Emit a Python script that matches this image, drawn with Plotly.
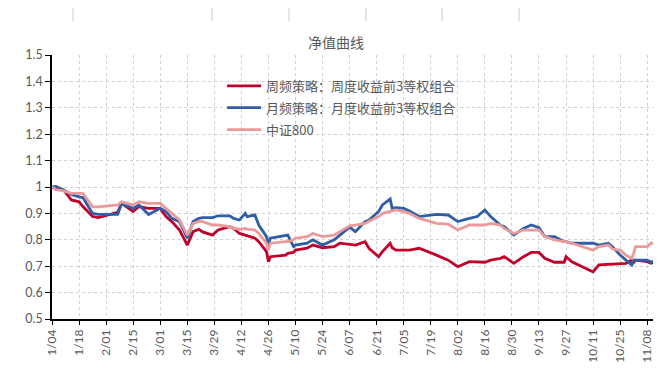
import plotly.graph_objects as go

dates = ["2022-01-04","2022-01-06","2022-01-10","2022-01-14","2022-01-18","2022-01-20","2022-01-25","2022-01-28",
         "2022-02-07","2022-02-09","2022-02-15","2022-02-18","2022-02-23","2022-03-01","2022-03-04","2022-03-07",
         "2022-03-11","2022-03-15","2022-03-18","2022-03-21","2022-03-23","2022-03-28","2022-03-31","2022-04-06",
         "2022-04-08","2022-04-11","2022-04-14","2022-04-15","2022-04-19","2022-04-21","2022-04-25","2022-04-26",
         "2022-04-27","2022-05-05","2022-05-06","2022-05-09","2022-05-10","2022-05-16","2022-05-19","2022-05-24",
         "2022-05-30","2022-06-02","2022-06-07","2022-06-10","2022-06-15","2022-06-17","2022-06-22","2022-06-24",
         "2022-06-28","2022-06-29","2022-07-01","2022-07-05","2022-07-08","2022-07-13","2022-07-18","2022-07-22",
         "2022-07-28","2022-08-02","2022-08-08","2022-08-12","2022-08-16","2022-08-19","2022-08-24","2022-08-26",
         "2022-08-31","2022-09-05","2022-09-09","2022-09-13","2022-09-16","2022-09-21","2022-09-26","2022-09-27",
         "2022-09-30","2022-10-10","2022-10-11","2022-10-14","2022-10-19","2022-10-21","2022-10-25","2022-10-28",
         "2022-10-31","2022-11-01","2022-11-02","2022-11-08","2022-11-10","2022-11-11"]

weekly = [1.0,0.995,0.989,0.951,0.944,0.926,0.888,0.884,
          0.904,0.938,0.907,0.926,0.919,0.919,0.888,0.869,
          0.837,0.780,0.831,0.840,0.830,0.818,0.837,0.850,
          0.843,0.824,0.818,0.815,0.806,0.793,0.755,0.717,
          0.736,0.742,0.749,0.752,0.761,0.768,0.780,0.770,
          0.774,0.787,0.782,0.780,0.793,0.768,0.736,0.755,
          0.787,0.770,0.761,0.761,0.761,0.768,0.755,0.742,
          0.723,0.698,0.717,0.717,0.715,0.723,0.730,0.736,
          0.711,0.736,0.752,0.752,0.730,0.715,0.715,0.736,
          0.717,0.682,0.679,0.705,0.707,0.707,0.707,0.711,
          0.723,0.714,0.723,0.717,0.711,0.714]

monthly = [1.0,1.002,0.989,0.972,0.963,0.960,0.900,0.896,
           0.896,0.938,0.919,0.932,0.896,0.919,0.907,0.881,
           0.869,0.806,0.869,0.881,0.884,0.884,0.891,0.891,
           0.881,0.875,0.900,0.888,0.894,0.856,0.812,0.780,
           0.806,0.818,0.818,0.774,0.780,0.787,0.800,0.780,
           0.800,0.818,0.848,0.831,0.869,0.875,0.907,0.932,
           0.955,0.919,0.922,0.919,0.909,0.888,0.894,0.896,
           0.894,0.869,0.881,0.888,0.913,0.888,0.856,0.850,
           0.818,0.843,0.856,0.846,0.812,0.812,0.793,0.793,
           0.787,0.787,0.787,0.780,0.787,0.774,0.742,0.723,
           0.705,0.723,0.723,0.723,0.715,0.720]

csi800 = [1.0,0.990,0.985,0.976,0.976,0.976,0.925,0.925,
          0.932,0.944,0.932,0.944,0.938,0.938,0.919,0.900,
          0.875,0.818,0.862,0.869,0.869,0.856,0.856,0.850,
          0.843,0.840,0.843,0.840,0.837,0.824,0.787,0.761,
          0.787,0.793,0.793,0.800,0.806,0.812,0.824,0.812,
          0.818,0.831,0.853,0.856,0.862,0.870,0.888,0.900,
          0.907,0.910,0.913,0.907,0.900,0.881,0.869,0.862,
          0.859,0.837,0.856,0.856,0.856,0.862,0.856,0.843,
          0.824,0.837,0.837,0.837,0.812,0.800,0.793,0.793,
          0.787,0.765,0.761,0.774,0.780,0.765,0.761,0.742,
          0.730,0.749,0.774,0.774,0.787,0.787]

tick_dates = ["2022-01-04","2022-01-18","2022-02-01","2022-02-15","2022-03-01","2022-03-15","2022-03-29",
              "2022-04-12","2022-04-26","2022-05-10","2022-05-24","2022-06-07","2022-06-21","2022-07-05",
              "2022-07-19","2022-08-02","2022-08-16","2022-08-30","2022-09-13","2022-09-27","2022-10-11",
              "2022-10-25","2022-11-08"]
tick_labels = ["1/04","1/18","2/01","2/15","3/01","3/15","3/29","4/12","4/26","5/10","5/24","6/07",
               "6/21","7/05","7/19","8/02","8/16","8/30","9/13","9/27","10/11","10/25","11/08"]
y_ticks = [0.5,0.6,0.7,0.8,0.9,1.0,1.1,1.2,1.3,1.4,1.5]
y_labels = ["0.5","0.6","0.7","0.8","0.9","1","1.1","1.2","1.3","1.4","1.5"]

names = ["周频策略：周度收益前3等权组合", "月频策略：月度收益前3等权组合", "中证800"]
colors = ["#C0002A", "#2F5DA6", "#EA9A9A"]

fig = go.Figure()
for i, (name, vals, col) in enumerate(zip(names, [weekly, monthly, csi800], colors)):
    fig.add_trace(go.Scatter(x=dates, y=vals, mode="lines", name=name, legendgroup=f"g{i}",
                             line=dict(color=col, width=2.8)))

font_fam = "Lato, 'Noto Sans CJK SC', sans-serif"
# the page body adds an 8px offset; margins compensate so the plot lands where the reference has it
fig.update_layout(
    width=672, height=369,
    margin=dict(l=44, r=27, t=47, b=58, autoexpand=False),
    paper_bgcolor="white", plot_bgcolor="white",
    title=dict(text="净值曲线", x=(336 - 8) / 672, xanchor="center", y=1 - 35 / 369, yanchor="middle",
               font=dict(family="'Noto Sans CJK SC', sans-serif", size=14, color="#595959")),
    showlegend=True,
    legend=dict(x=0.283, y=0.94, xanchor="left", yanchor="top",
                bgcolor="rgba(255,255,255,0)", tracegroupgap=2,
                font=dict(family="'Noto Sans CJK SC', sans-serif", size=13, color="#595959"),
                itemwidth=34),
    font=dict(family=font_fam, color="#595959"),
)
fig.update_xaxes(
    type="date", range=["2022-01-04", "2022-11-11"], automargin=False,
    tickvals=tick_dates, ticktext=tick_labels, tickangle=-90,
    tickfont=dict(family=font_fam, size=12, color="#595959"),
    showline=True, linecolor="#000000", linewidth=1.5,
    ticks="outside", ticklen=4, tickcolor="#000000",
    showgrid=True, gridcolor="#D0D0D0", griddash="dot", gridwidth=1,
    zeroline=False,
)
fig.update_yaxes(
    range=[0.5, 1.5], tickvals=y_ticks, ticktext=y_labels, automargin=False,
    tickfont=dict(family=font_fam, size=12.5, color="#595959"),
    showline=True, linecolor="#000000", linewidth=1.5,
    ticks="outside", ticklen=5, tickcolor="#000000",
    showgrid=True, gridcolor="#D0D0D0", griddash="dot", gridwidth=1,
    zeroline=False,
)

# decorative short separators seen above the chart (page pixel positions -> paper coords)
def px_x(p):
    return (p - 52) / 601.0
def px_y(p):
    return (319 - p) / 264.0

shapes = []
for xx in (73, 212, 289, 366, 442, 519):
    shapes.append(dict(type="line", xref="paper", yref="paper", x0=px_x(xx), x1=px_x(xx),
                       y0=px_y(8), y1=px_y(21), line=dict(color="#C8C8C8", width=1)))
fig.update_layout(shapes=shapes)

fig.write_html("out.html")
